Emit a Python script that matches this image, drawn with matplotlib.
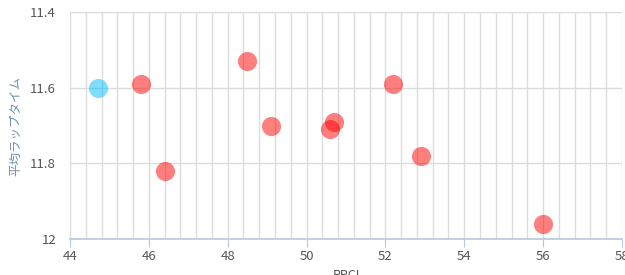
import matplotlib
matplotlib.use("Agg")
import matplotlib.pyplot as plt
from matplotlib.ticker import MultipleLocator

plt.rcParams['font.family'] = ['Noto Sans CJK JP', 'DejaVu Sans']

# data
blue_x = [44.7]
blue_y = [11.60]
red_x = [45.8, 46.4, 48.5, 49.1, 50.6, 50.7, 52.2, 52.9, 56.0]
red_y = [11.59, 11.82, 11.53, 11.70, 11.71, 11.69, 11.59, 11.78, 11.96]

x_ticks = [44, 46, 48, 50, 52, 54, 56, 58]
y_ticks = [11.4, 11.6, 11.8, 12]
y_tick_labels = ['11.4', '11.6', '11.8', '12']

fig = plt.figure(figsize=(6.25, 2.75), dpi=100)
ax = fig.add_axes([0.112, 0.131, 0.883, 0.825])

ax.scatter(red_x, red_y, s=190, color='#ff0000', alpha=0.5, linewidths=0, zorder=3)
ax.scatter(blue_x, blue_y, s=190, color='#00bfff', alpha=0.5, linewidths=0, zorder=3)

ax.set_xlim(44, 58)
ax.set_ylim(12, 11.4)
ax.set_xticks(x_ticks)
ax.xaxis.set_minor_locator(MultipleLocator(0.4))
ax.set_yticks(y_ticks)
ax.set_yticklabels(y_tick_labels)

ax.grid(True, which='both', axis='x', color='#dcdcdc', linewidth=1)
ax.grid(True, which='major', axis='y', color='#dcdcdc', linewidth=1)
ax.set_axisbelow(True)

for side in ['top', 'right', 'left']:
    ax.spines[side].set_visible(False)
ax.spines['bottom'].set_color('#b8c8dc')
ax.spines['bottom'].set_linewidth(1.2)

ax.tick_params(axis='x', which='major', length=6, color='#b8c8dc', labelsize=9.5, labelcolor='#555555', pad=2)
ax.tick_params(axis='x', which='minor', length=0)
ax.tick_params(axis='y', length=0, labelsize=9.5, labelcolor='#555555', pad=10)

ax.set_ylabel('平均ラップタイム', fontsize=9, color='#6f8fb0', labelpad=6)
ax.set_xlabel('RPCI', fontsize=9, color='#555555', labelpad=4)

fig.savefig('out.png', dpi=100)
